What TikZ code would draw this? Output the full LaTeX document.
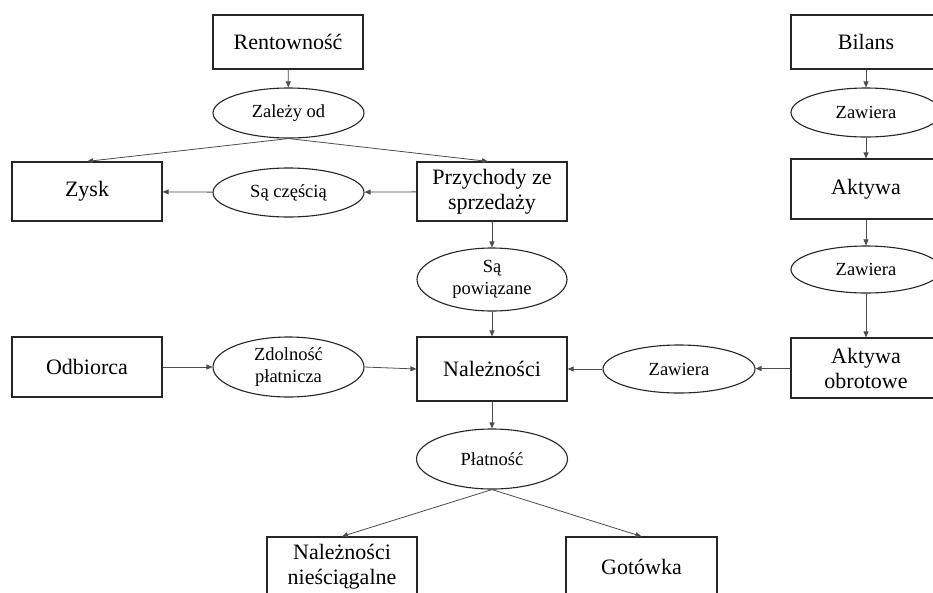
\documentclass[tikz,border=0pt]{standalone}
\usepackage{fontspec}
\setmainfont{Liberation Serif}
\usetikzlibrary{shapes.geometric,arrows.meta}
\tikzset{
  box/.style={draw=black!85, line width=1.2pt, rectangle, minimum width=150pt, minimum height=60pt, inner sep=0pt, align=center, font=\fontsize{22}{25}\selectfont},
  oval/.style={draw=black!85, line width=1.1pt, ellipse, minimum width=151pt, minimum height=49pt, inner sep=0pt, align=center, font=\fontsize{18.5}{21.5}\selectfont},
  conn/.style={draw=black!70, line width=0.8pt, -{Triangle[length=6pt,width=5pt]}}
}
\begin{document}
\begin{tikzpicture}[x=1pt,y=-1pt]
\clip (0,0) rectangle (933,592);
\fill[white] (0,0) rectangle (933,592);
% left / centre column
\node[box, minimum height=54pt] (rent) at (288,42) {Rentowność};
\node[oval, minimum height=50pt] (zal) at (288.5,113) {Zależy od};
\node[box, minimum height=59pt] (zysk) at (87,191.5) {Zysk};
\node[oval] (czesc) at (288.5,192.5) {Są częścią};
\node[box, minimum height=59pt] (przych) at (492,191.5) {Przychody ze\\sprzedaży};
\node[oval, minimum width=150pt, minimum height=63pt] (powiaz) at (492,279.5) {Są\\powiązane};
\node[box] (odb) at (87,367) {Odbiorca};
\node[oval, minimum height=60pt] (zdol) at (288.5,367) {Zdolność\\płatnicza};
\node[box, minimum height=64pt] (nal) at (492,369) {Należności};
\node[oval, minimum width=152pt, minimum height=48pt] (zaw3) at (679,369) {Zawiera};
\node[oval, minimum height=60pt] (plat) at (492,459) {Płatność};
\node[box] (nien) at (342,567) {Należności\\nieściągalne};
\node[box, minimum width=151pt] (got) at (641.5,567) {Gotówka};
% right column
\node[box, minimum height=54pt] (bilans) at (866,42) {Bilans};
\node[oval, minimum width=150pt] (zaw1) at (866,112.5) {Zawiera};
\node[box] (aktywa) at (866,189) {Aktywa};
\node[oval, minimum width=150pt, minimum height=47pt] (zaw2) at (866,269.5) {Zawiera};
\node[box] (akob) at (866,368) {Aktywa\\obrotowe};
% connectors
\draw[conn] (rent) -- (zal);
\draw[conn] (zal.south) -- (zysk.north);
\draw[conn] (zal.south) -- ([xshift=-4pt]przych.north);
\draw[conn] (przych) -- (czesc);
\draw[conn] (czesc) -- (zysk);
\draw[conn] (przych) -- (powiaz);
\draw[conn] (powiaz) -- (nal);
\draw[conn] (odb) -- (zdol);
\draw[conn] (zdol.east) -- (nal.west);
\draw[conn] (akob) -- (zaw3);
\draw[conn] (zaw3) -- (nal);
\draw[conn] (bilans) -- (zaw1);
\draw[conn] (zaw1) -- (aktywa);
\draw[conn] (aktywa) -- (zaw2);
\draw[conn] (zaw2) -- (akob);
\draw[conn] (nal) -- (plat);
\draw[conn] (plat.south) -- (nien.north);
\draw[conn] (plat.south) -- (got.north);
\end{tikzpicture}
\end{document}
